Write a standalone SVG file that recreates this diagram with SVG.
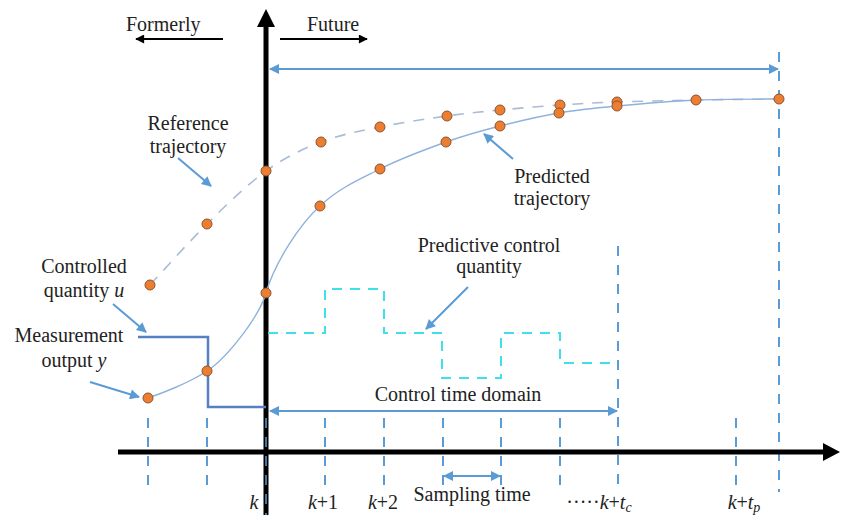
<svg xmlns="http://www.w3.org/2000/svg" width="842" height="515" viewBox="0 0 842 515">
<style>
text{font-family:'Liberation Serif','DejaVu Serif','Times New Roman',serif;font-size:20px;fill:#222}
.i{font-style:italic}
.tick{stroke:#5B9BD5;stroke-width:2;stroke-dasharray:10 9;fill:none}
.call{stroke:#5B9BD5;stroke-width:2;fill:none;marker-end:url(#ab)}
.pt{fill:#ED7D31;stroke:#8A5530;stroke-width:1}
</style>
<defs>
<marker id="ab" viewBox="0 0 10 10" refX="9" refY="5" markerUnits="userSpaceOnUse" markerWidth="12" markerHeight="10" orient="auto-start-reverse"><path d="M0,0 L10,5 L0,10 z" fill="#5B9BD5"/></marker>
<marker id="ak" viewBox="0 0 10 10" refX="9" refY="5" markerUnits="userSpaceOnUse" markerWidth="11" markerHeight="9" orient="auto-start-reverse"><path d="M0,0 L10,5 L0,10 z" fill="#000"/></marker>
</defs>
<rect width="842" height="515" fill="#fff"/>

<g id="ticks">
<line class="tick" x1="148" y1="418" x2="148" y2="492"/>
<line class="tick" x1="207" y1="418" x2="207" y2="492"/>
<line class="tick" x1="325" y1="418" x2="325" y2="492"/>
<line class="tick" x1="384" y1="418" x2="384" y2="492"/>
<line class="tick" x1="443" y1="418" x2="443" y2="492"/>
<line class="tick" x1="501" y1="418" x2="501" y2="492"/>
<line class="tick" x1="560" y1="418" x2="560" y2="492"/>
<line class="tick" x1="618" y1="246" x2="618" y2="492"/>
<line class="tick" x1="736" y1="418" x2="736" y2="492"/>
<line class="tick" x1="779" y1="52" x2="779" y2="492"/>
</g>

<g id="axes">
<line x1="118" y1="452" x2="826" y2="452" stroke="#000" stroke-width="5"/>
<polygon points="840,452 823,443 823,461" fill="#000"/>
<line x1="266" y1="24" x2="266" y2="515" stroke="#000" stroke-width="5"/>
<polygon points="266,9 257,27 275,27" fill="#000"/>
<line x1="266" y1="418" x2="266" y2="515" stroke="#5B9BD5" stroke-width="1.5" stroke-dasharray="10 9"/>
</g>

<g id="time-arrows">
<line x1="223" y1="39" x2="136" y2="39" stroke="#000" stroke-width="2" marker-end="url(#ak)"/>
<line x1="280" y1="39" x2="367" y2="39" stroke="#000" stroke-width="2" marker-end="url(#ak)"/>
<text x="126" y="31">Formerly</text>
<text x="307" y="31">Future</text>
</g>

<g id="connectors">
<line x1="270" y1="69" x2="778" y2="69" stroke="#5B9BD5" stroke-width="2" marker-start="url(#ab)" marker-end="url(#ab)"/>
<line x1="270" y1="411" x2="617" y2="411" stroke="#5B9BD5" stroke-width="2" marker-start="url(#ab)" marker-end="url(#ab)"/>
<line x1="444" y1="476" x2="500" y2="476" stroke="#5B9BD5" stroke-width="2" marker-start="url(#ab)" marker-end="url(#ab)"/>
<line class="call" x1="178" y1="158" x2="211" y2="186"/>
<line class="call" x1="113" y1="304" x2="146" y2="332"/>
<line class="call" x1="90" y1="382" x2="139" y2="397"/>
<line class="call" x1="513" y1="159" x2="484" y2="134"/>
<line class="call" x1="468" y1="287" x2="426" y2="329"/>
</g>

<g id="reference-trajectory">
<path d="M150,285 C159.5,274.8 187.7,243 207,224 C226.3,205 247,184.7 266,171 C285,157.3 302,149.3 321,142 C340,134.7 359,131.3 380,127 C401,122.7 427,118.8 447,116 C467,113.2 481.2,111.8 500,110 C518.8,108.2 540.5,106.3 560,105 C579.5,103.7 594.3,102.8 617,102 C639.7,101.2 669,100.5 696,100 C723,99.5 765.2,99.2 779,99" fill="none" stroke="#A9BCD6" stroke-width="1.6" stroke-dasharray="11 9"/>
</g>

<g id="predicted-trajectory">
<path d="M148,398 C160,394 189,383 207,371 C227,358 259,317 266,293 C275,262 300,224 320,206 C339,188 359,179.7 380,169 C401,158.3 426,149.2 446,142 C466,134.8 481.2,130.8 500,126 C518.8,121.2 539.5,116.3 559,113 C578.5,109.7 594.2,108.2 617,106 C639.8,103.8 669,101.2 696,100 C723.7,98.8 765.2,99.2 779,99" fill="none" stroke="#8FB2DC" stroke-width="1.4"/>
</g>

<g id="controlled-quantity">
<path d="M138,337 H208 V407 H266" fill="none" stroke="#5680C2" stroke-width="2.5"/>
</g>

<g id="predictive-control">
<path d="M268,333 H325 V289 H384 V333 H442 V378 H501 V333 H560 V363 H617" fill="none" stroke="#3FE0EA" stroke-width="2" stroke-dasharray="10 8"/>
</g>

<g id="points">
<circle class="pt" cx="150" cy="285" r="5"/>
<circle class="pt" cx="207" cy="224" r="5"/>
<circle class="pt" cx="266" cy="171" r="5"/>
<circle class="pt" cx="321" cy="142" r="5"/>
<circle class="pt" cx="380" cy="127" r="5"/>
<circle class="pt" cx="447" cy="116" r="5"/>
<circle class="pt" cx="500" cy="110" r="5"/>
<circle class="pt" cx="560" cy="105" r="5"/>
<circle class="pt" cx="617" cy="102" r="5"/>
<circle class="pt" cx="148" cy="398" r="5"/>
<circle class="pt" cx="207" cy="371" r="5"/>
<circle class="pt" cx="266" cy="293" r="5"/>
<circle class="pt" cx="320" cy="206" r="5"/>
<circle class="pt" cx="380" cy="169" r="5"/>
<circle class="pt" cx="446" cy="142" r="5"/>
<circle class="pt" cx="500" cy="126" r="5"/>
<circle class="pt" cx="559" cy="113" r="5"/>
<circle class="pt" cx="617" cy="106" r="5"/>
<circle class="pt" cx="696" cy="100" r="5"/>
<circle class="pt" cx="779" cy="99" r="5"/>
</g>

<g id="labels">
<text x="188" y="130" text-anchor="middle">Reference</text>
<text x="188" y="153" text-anchor="middle">trajectory</text>
<text x="84" y="273" text-anchor="middle">Controlled</text>
<text x="84" y="297" text-anchor="middle">quantity <tspan class="i">u</tspan></text>
<text x="69" y="342" text-anchor="middle">Measurement</text>
<text x="74" y="367" text-anchor="middle">output <tspan class="i">y</tspan></text>
<text x="552" y="183" text-anchor="middle">Predicted</text>
<text x="552" y="205" text-anchor="middle">trajectory</text>
<text x="489" y="252" text-anchor="middle">Predictive control</text>
<text x="489" y="273" text-anchor="middle">quantity</text>
<text x="458" y="401" text-anchor="middle">Control time domain</text>
<text x="472" y="501" text-anchor="middle">Sampling time</text>
</g>

<g id="tick-labels">
<text x="254" y="509" text-anchor="middle" class="i">k</text>
<text x="323" y="509" text-anchor="middle"><tspan class="i">k</tspan>+1</text>
<text x="383" y="509" text-anchor="middle"><tspan class="i">k</tspan>+2</text>
<text x="599" y="509" text-anchor="middle">·····<tspan class="i">k</tspan>+<tspan class="i">t</tspan><tspan class="i" font-size="14" dy="3">c</tspan></text>
<text x="744" y="509" text-anchor="middle"><tspan class="i">k</tspan>+<tspan class="i">t</tspan><tspan class="i" font-size="14" dy="3">p</tspan></text>
</g>
</svg>
